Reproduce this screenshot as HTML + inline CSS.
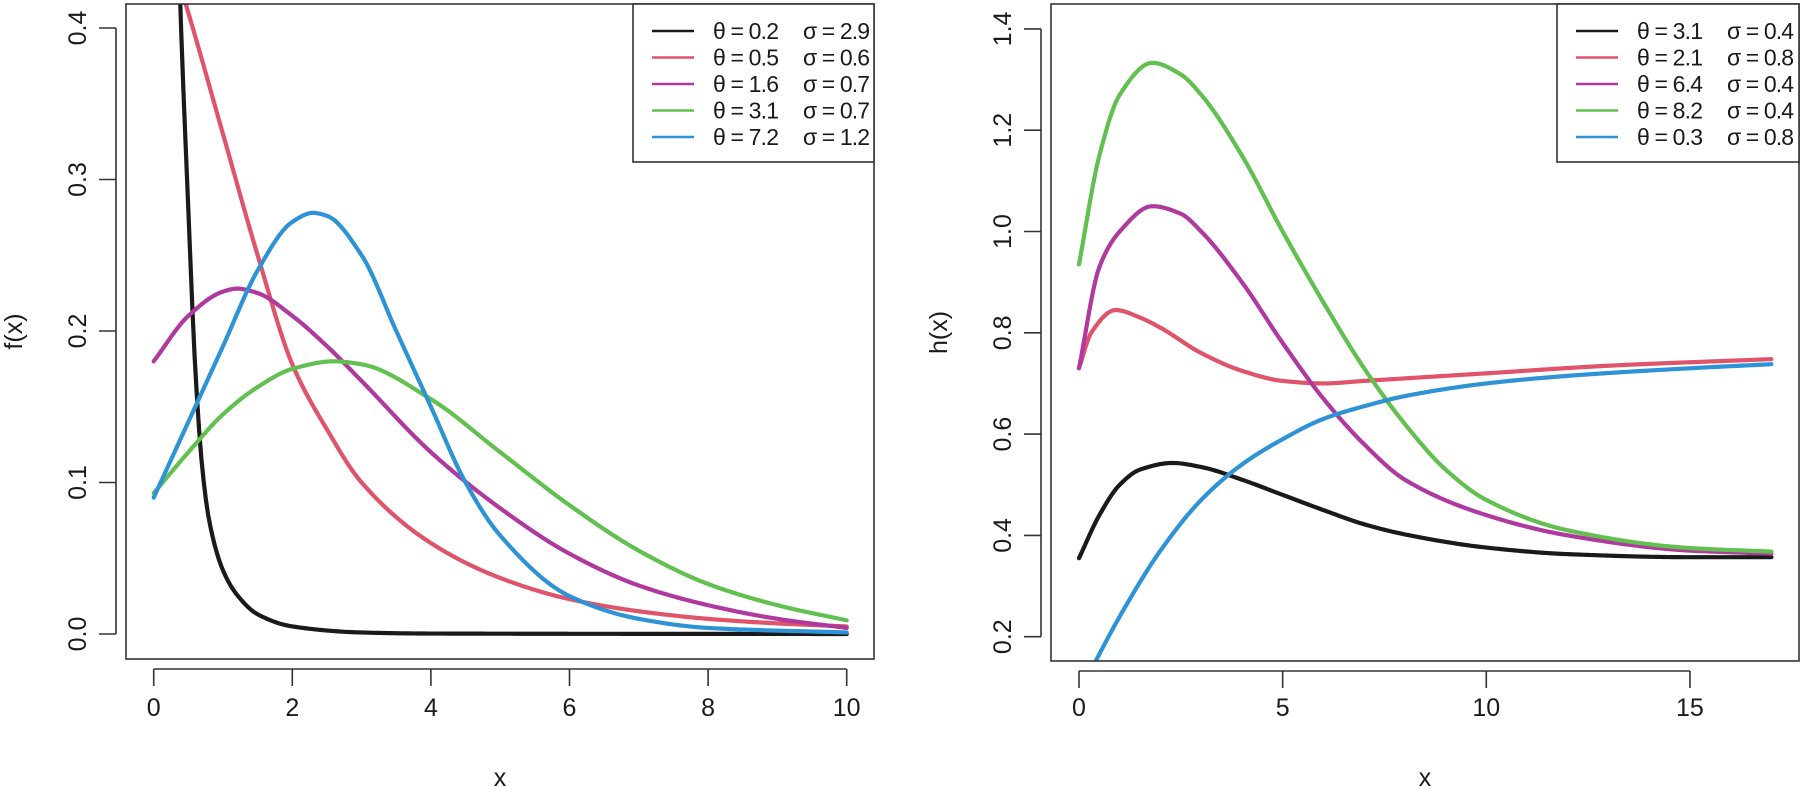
<!DOCTYPE html>
<html><head><meta charset="utf-8"><style>
body{margin:0;background:#fff}
svg{display:block}
text{font-family:"Liberation Sans",Arial,sans-serif;fill:#1a1a1a}
</style></head><body>
<svg id="chart" width="1800" height="787" viewBox="0 0 1800 787" xmlns="http://www.w3.org/2000/svg"></svg>
<script>
// ---- Left panel data: f(x)
const fTicksX = [0,2,4,6,8,10];
const fTicksY = [0.0,0.1,0.2,0.3,0.4];
const fTickLabelsY = ["0.0","0.1","0.2","0.3","0.4"];
const fLegendTheta = ["0.2","0.5","1.6","3.1","7.2"];
const fLegendSigma = ["2.9","0.6","0.7","0.7","1.2"];
const fBlackX = [0.3,0.38,0.5,0.6,0.7,0.8,1.0,1.2,1.5,2,3,4,10];
const fBlackY = [0.55,0.42,0.28,0.175,0.11,0.075,0.042,0.026,0.013,0.005,0.001,0.0003,0];
const fRedX = [0.3,0.5,1,1.5,2,2.5,3,4,5,6,7,8,9,10];
const fRedY = [0.44,0.41,0.33,0.25,0.178,0.135,0.1,0.06,0.037,0.023,0.015,0.01,0.007,0.005];
const fMagX = [0,0.5,1,1.2,1.5,2,2.5,3,4,5,6,7,8,9,10];
const fMagY = [0.18,0.21,0.226,0.228,0.225,0.21,0.19,0.167,0.12,0.083,0.053,0.032,0.019,0.01,0.004];
const fGreenX = [0,0.5,1,1.5,2,2.6,3,4,5,6,7,8,9,10];
const fGreenY = [0.093,0.12,0.145,0.163,0.175,0.18,0.178,0.155,0.12,0.085,0.055,0.033,0.019,0.009];
const fBlueX = [0,0.5,1,1.5,2,2.3,2.5,3,3.5,4,4.5,5,6,7,8,10];
const fBlueY = [0.09,0.14,0.19,0.24,0.272,0.278,0.276,0.25,0.2,0.15,0.1,0.065,0.025,0.01,0.004,0.001];
// ---- Right panel data: h(x)
const hTicksX = [0,5,10,15];
const hTicksY = [0.2,0.4,0.6,0.8,1.0,1.2,1.4];
const hTickLabelsY = ["0.2","0.4","0.6","0.8","1.0","1.2","1.4"];
const hLegendTheta = ["3.1","2.1","6.4","8.2","0.3"];
const hLegendSigma = ["0.4","0.8","0.4","0.4","0.8"];
const hBlackX = [0,0.5,1,1.5,2.3,3,4,5,6,7,8,10,12,15,17];
const hBlackY = [0.355,0.44,0.5,0.53,0.543,0.535,0.51,0.48,0.45,0.422,0.402,0.376,0.363,0.357,0.357];
const hRedX = [0,0.3,0.9,1.5,2,3,4,5,6,7,10,13,17];
const hRedY = [0.73,0.8,0.845,0.83,0.81,0.76,0.725,0.705,0.7,0.705,0.72,0.735,0.748];
const hMagX = [0,0.5,1,1.8,2.5,3,4,5,6,7,8,10,12,15,17];
const hMagY = [0.73,0.93,1.0,1.05,1.035,1.0,0.9,0.78,0.67,0.58,0.51,0.44,0.4,0.37,0.364];
const hGreenX = [0,0.5,1,1.8,2.5,3,4,5,6,7,8,9,10,12,15,17];
const hGreenY = [0.935,1.15,1.27,1.333,1.31,1.27,1.15,1.0,0.86,0.73,0.62,0.53,0.47,0.41,0.375,0.368];
const hBlueX = [0.2,1,2,3,4,5,6,7,8,10,12,15,17];
const hBlueY = [0.12,0.24,0.37,0.47,0.54,0.59,0.63,0.655,0.675,0.7,0.715,0.73,0.738];

const colors = ["#1a1a1a","#DF536B","#B0399F","#61C04F","#2E93D6"];
const NS = "http://www.w3.org/2000/svg";
const svg = document.getElementById("chart");
function el(tag, attrs, parent){const e=document.createElementNS(NS,tag);for(const k in attrs)e.setAttribute(k,attrs[k]);(parent||svg).appendChild(e);return e;}
// monotone cubic (Fritsch-Carlson) interpolation, sampled densely
function monotone(xs, ys){
  const n=xs.length, d=[], m=new Array(n);
  for(let i=0;i<n-1;i++) d.push((ys[i+1]-ys[i])/(xs[i+1]-xs[i]));
  m[0]=d[0]; m[n-1]=d[n-2];
  for(let i=1;i<n-1;i++){
    if(d[i-1]*d[i]<=0) m[i]=0;
    else { const h0=xs[i]-xs[i-1], h1=xs[i+1]-xs[i];
      const w1=2*h1+h0, w2=h1+2*h0; m[i]=(w1+w2)/(w1/d[i-1]+w2/d[i]); }
  }
  return function(x){
    let i=0; while(i<n-2 && x>xs[i+1]) i++;
    const h=xs[i+1]-xs[i], t=(x-xs[i])/h, t2=t*t, t3=t2*t;
    return (2*t3-3*t2+1)*ys[i]+(t3-2*t2+t)*h*m[i]+(-2*t3+3*t2)*ys[i+1]+(t3-t2)*h*m[i+1];
  };
}
function panel(cfg){
  const g=el("g",{});
  
  
  const sx=v=>cfg.x0+(v-cfg.xa)*cfg.kx;
  const sy=v=>cfg.y0-(v-cfg.ya)*cfg.ky;
  const clipId=cfg.name+"-clip";
  const cp=el("clipPath",{id:clipId},g);
  el("rect",{x:cfg.box[0],y:cfg.box[1],width:cfg.box[2]-cfg.box[0],height:cfg.box[3]-cfg.box[1]},cp);
  const lines=el("g",{"clip-path":"url(#"+clipId+")"},g);
  
  
  cfg.series.forEach((s,i)=>{
    const f=monotone(s[0],s[1]);
    const a=s[0][0], b=s[0][s[0].length-1], N=300;
    let d="";
    for(let k=0;k<=N;k++){const x=a+(b-a)*k/N; d+=(k?"L":"M")+sx(x).toFixed(2)+","+sy(f(x)).toFixed(2);}
    const p=el("path",{d:d,fill:"none",stroke:colors[i],"stroke-width":4.2,"stroke-linejoin":"round","stroke-linecap":"round"},lines);
    
    
  });
  const box=el("rect",{x:cfg.box[0],y:cfg.box[1],width:cfg.box[2]-cfg.box[0],height:cfg.box[3]-cfg.box[1],fill:"none",stroke:"#333","stroke-width":1.6},g);
  
  
  const xa=el("g",{},g);
  
  
  const xs=cfg.xticks.map(sx);
  el("line",{x1:xs[0],x2:xs[xs.length-1],y1:cfg.box[3]+10,y2:cfg.box[3]+10,stroke:"#333","stroke-width":1.6},xa);
  cfg.xticks.forEach((t,i)=>{
    el("line",{x1:xs[i],x2:xs[i],y1:cfg.box[3]+10,y2:cfg.box[3]+27,stroke:"#333","stroke-width":1.6},xa);
    const tx=el("text",{x:xs[i],y:716,"font-size":25,"text-anchor":"middle"},xa);
    tx.textContent=String(t);
    
    
  });
  const xt=el("text",{x:(cfg.box[0]+cfg.box[2])/2,y:786,"font-size":25,"text-anchor":"middle"},g);
  xt.textContent="x";
  
  
  const ya=el("g",{},g);
  
  
  const ys=cfg.yticks.map(sy);
  const ax=cfg.box[0]-10;
  el("line",{x1:ax,x2:ax,y1:ys[0],y2:ys[ys.length-1],stroke:"#333","stroke-width":1.6},ya);
  cfg.yticks.forEach((t,i)=>{
    el("line",{x1:ax,x2:ax-17,y1:ys[i],y2:ys[i],stroke:"#333","stroke-width":1.6},ya);
    const lx=cfg.box[0]-40;
    const tx=el("text",{x:lx,y:ys[i],"font-size":25,"text-anchor":"middle",transform:"rotate(-90 "+lx+" "+ys[i]+")"},ya);
    tx.textContent=cfg.ylabels[i];
    
    
  });
  const tyx=cfg.box[0]-104, tyy=(cfg.box[1]+cfg.box[3])/2;
  const yt=el("text",{x:tyx,y:tyy,"font-size":25,"text-anchor":"middle",transform:"rotate(-90 "+tyx+" "+tyy+")"},g);
  yt.textContent=cfg.ytitle;
  
  
  const lg=el("g",{},g);
  
  
  const L=cfg.legend;
  el("rect",{x:L.x,y:cfg.box[1],width:cfg.box[2]-L.x,height:162-cfg.box[1],fill:"#fff",stroke:"#333","stroke-width":1.6},lg);
  cfg.theta.forEach((th,i)=>{
    const yy=31+i*26.5;
    const e=el("g",{},lg);
    
    
    el("line",{x1:L.x+19,x2:L.x+61,y1:yy,y2:yy,stroke:colors[i],"stroke-width":2.5},e);
    const t1=el("text",{x:L.x+80,y:yy+8,"font-size":23,textLength:66,lengthAdjust:"spacing"},e);
    t1.textContent="θ = "+th;
    const t2=el("text",{x:L.x+170,y:yy+8,"font-size":23,textLength:67,lengthAdjust:"spacing"},e);
    t2.textContent="σ = "+cfg.sigma[i];
  });
}
panel({name:"density-panel",x0:153.7,xa:0,kx:69.3,y0:634,ya:0,ky:1515,box:[126,4,874,659],
  xticks:fTicksX,yticks:fTicksY,ylabels:fTickLabelsY,ytitle:"f(x)",theta:fLegendTheta,sigma:fLegendSigma,legend:{x:633},
  series:[[fBlackX,fBlackY],[fRedX,fRedY],[fMagX,fMagY],[fGreenX,fGreenY],[fBlueX,fBlueY]]});
panel({name:"hazard-panel",x0:1079,xa:0,kx:40.73,y0:636.7,ya:0.2,ky:506.5,box:[1051,4,1799,661],
  xticks:hTicksX,yticks:hTicksY,ylabels:hTickLabelsY,ytitle:"h(x)",theta:hLegendTheta,sigma:hLegendSigma,legend:{x:1557},
  series:[[hBlackX,hBlackY],[hRedX,hRedY],[hMagX,hMagY],[hGreenX,hGreenY],[hBlueX,hBlueY]]});
</script>
</body></html>
